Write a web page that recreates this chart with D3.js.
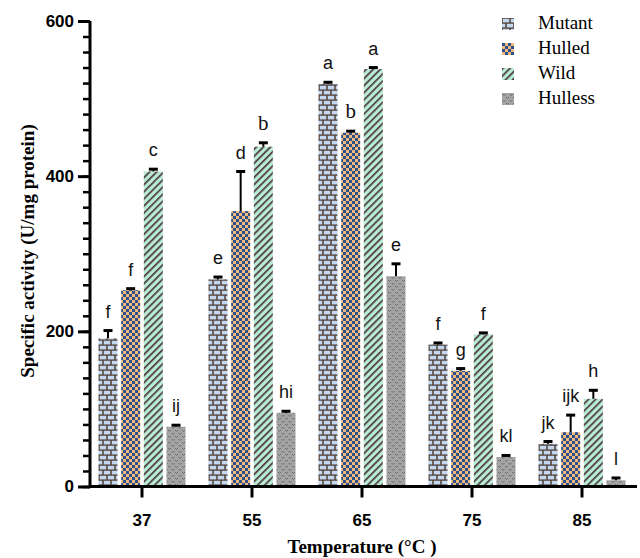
<!DOCTYPE html>
<html>
<head>
<meta charset="utf-8">
<script src="https://cdn.jsdelivr.net/npm/d3@7/dist/d3.min.js"></script>
<style>
  body { margin: 0; background: #fff; }
  svg { display: block; }
</style>
</head>
<body>
<svg></svg>
<script>
const temperatures = ['37', '55', '65', '75', '85'];
const series = ['Mutant', 'Hulled', 'Wild', 'Hulless'];

const mutant = [191, 267, 519, 183, 55];
const hulled = [253, 355, 456, 149, 70];
const wild = [406, 438, 538, 196, 113];
const hulless = [77, 95, 271, 38, 8];

const mutantErr = [10, 3, 2, 2, 3];
const hulledErr = [2, 51, 2, 3, 22];
const wildErr = [3, 5, 2, 2, 11];
const hullessErr = [2, 2, 16, 2, 3];

const mutantLetters = ['f', 'e', 'a', 'f', 'jk'];
const hulledLetters = ['f', 'd', 'b', 'g', 'ijk'];
const wildLetters = ['c', 'b', 'a', 'f', 'h'];
const hullessLetters = ['ij', 'hi', 'e', 'kl', 'l'];

const yTicks = [0, 200, 400, 600];

const values = { Mutant: mutant, Hulled: hulled, Wild: wild, Hulless: hulless };
const errors = { Mutant: mutantErr, Hulled: hulledErr, Wild: wildErr, Hulless: hullessErr };
const letters = { Mutant: mutantLetters, Hulled: hulledLetters, Wild: wildLetters, Hulless: hullessLetters };

const width = 640;
const height = 558;
const svg = d3.select('svg').attr('width', width).attr('height', height);

// fill patterns
const defs = svg.append('defs');

const brick = defs.append('pattern').attr('id', 'p-Mutant')
  .attr('patternUnits', 'userSpaceOnUse').attr('width', 8).attr('height', 10);
brick.append('rect').attr('width', 8).attr('height', 10).attr('fill', '#56483d');
brick.append('rect').attr('x', 0.8).attr('y', 0.8).attr('width', 6.4).attr('height', 3.6).attr('fill', '#c3d7f0');
brick.append('rect').attr('x', -3.2).attr('y', 5.8).attr('width', 6.4).attr('height', 3.6).attr('fill', '#c3d7f0');
brick.append('rect').attr('x', 4.8).attr('y', 5.8).attr('width', 6.4).attr('height', 3.6).attr('fill', '#c3d7f0');

const check = defs.append('pattern').attr('id', 'p-Hulled')
  .attr('patternUnits', 'userSpaceOnUse').attr('width', 6).attr('height', 6);
check.append('rect').attr('width', 6).attr('height', 6).attr('fill', '#f2ba7a');
check.append('rect').attr('width', 3).attr('height', 3).attr('fill', '#2d4f8e');
check.append('rect').attr('x', 3).attr('y', 3).attr('width', 3).attr('height', 3).attr('fill', '#2d4f8e');

const stripe = defs.append('pattern').attr('id', 'p-Wild')
  .attr('patternUnits', 'userSpaceOnUse').attr('width', 5).attr('height', 5)
  .attr('patternTransform', 'rotate(45)');
stripe.append('rect').attr('width', 5).attr('height', 5).attr('fill', '#b8ecd9');
stripe.append('rect').attr('width', 1.7).attr('height', 5).attr('fill', '#4d3838');

const wave = defs.append('pattern').attr('id', 'p-Hulless')
  .attr('patternUnits', 'userSpaceOnUse').attr('width', 7).attr('height', 6);
wave.append('rect').attr('width', 7).attr('height', 6).attr('fill', '#a4a4a4');
wave.append('path').attr('d', 'M0.5,1 l1.5,1.5 l1.5,-1.5 M4,4 l1.5,1.5 l1.5,-1.5')
  .attr('fill', 'none').attr('stroke', '#6a6a6a').attr('stroke-width', 1);

// scales
const x0 = d3.scaleBand().domain(temperatures).range([87, 637]);
const x1 = d3.scaleBand().domain(series).range([11.5, 98.5]).paddingInner(0.162);
const y = d3.scaleLinear().domain([0, 600]).range([486.5, 21]);

// bars
const groups = svg.append('g').selectAll('g')
  .data(temperatures).enter()
  .append('g')
  .attr('transform', (d) => `translate(${x0(d)},0)`);

const cells = groups.selectAll('g')
  .data((t, i) => series.map((s) => ({
    s, v: values[s][i], e: errors[s][i], l: letters[s][i],
  })))
  .enter().append('g');

cells.append('rect')
  .attr('x', (d) => x1(d.s))
  .attr('y', (d) => y(d.v))
  .attr('width', x1.bandwidth())
  .attr('height', (d) => y(0) - y(d.v))
  .attr('fill', (d) => `url(#p-${d.s})`);

const cx = (d) => x1(d.s) + x1.bandwidth() / 2;

cells.append('line')
  .attr('x1', cx).attr('x2', cx)
  .attr('y1', (d) => y(d.v))
  .attr('y2', (d) => y(d.v + d.e))
  .attr('stroke', '#000')
  .attr('stroke-width', 2);

cells.append('line')
  .attr('x1', (d) => cx(d) - 4.5).attr('x2', (d) => cx(d) + 4.5)
  .attr('y1', (d) => y(d.v + d.e))
  .attr('y2', (d) => y(d.v + d.e))
  .attr('stroke', '#000')
  .attr('stroke-width', 3);

cells.append('text')
  .attr('x', cx)
  .attr('y', (d) => y(d.v + d.e) - 13)
  .attr('text-anchor', 'middle')
  .attr('font-family', (d) => (d.l === 'b' ? 'Liberation Serif, serif' : 'Liberation Sans, Arial, sans-serif'))
  .attr('font-size', (d) => (d.l === 'b' ? 21 : 18))
  .attr('fill', '#111')
  .text((d) => d.l);

// y axis: minor then major ticks
const minor = svg.append('g')
  .attr('transform', 'translate(90,0)')
  .call(d3.axisLeft(y).tickValues(d3.range(0, 601, 20)).tickSize(7).tickFormat(''));
minor.select('.domain').remove();
minor.selectAll('line').attr('stroke', '#000').attr('stroke-width', 2.5);

const yAxis = svg.append('g')
  .attr('transform', 'translate(90,0)')
  .call(d3.axisLeft(y).tickValues(yTicks).tickSize(12).tickPadding(4));
yAxis.select('.domain').remove();
yAxis.selectAll('line').attr('stroke', '#000').attr('stroke-width', 3);
yAxis.selectAll('text')
  .attr('font-family', 'Liberation Sans, Arial, sans-serif')
  .attr('font-weight', 'bold')
  .attr('font-size', 17)
  .attr('fill', '#000');

// x axis
const xAxis = svg.append('g')
  .attr('transform', `translate(0,${y(0)})`)
  .call(d3.axisBottom(x0).tickSize(11).tickPadding(16));
xAxis.select('.domain').remove();
xAxis.selectAll('line').attr('stroke', '#000').attr('stroke-width', 3);
xAxis.selectAll('text')
  .attr('font-family', 'Liberation Sans, Arial, sans-serif')
  .attr('font-weight', 'bold')
  .attr('font-size', 17)
  .attr('fill', '#000');

svg.append('path')
  .attr('d', `M90,${y(600)} V${y(0)} H637`)
  .attr('fill', 'none')
  .attr('stroke', '#000')
  .attr('stroke-width', 3);

// axis titles
svg.append('text')
  .attr('transform', 'translate(34,251) rotate(-90)')
  .attr('text-anchor', 'middle')
  .attr('font-family', 'Liberation Serif, Times New Roman, serif')
  .attr('font-weight', 'bold')
  .attr('font-size', 19)
  .text('Specific activity (U/mg protein)');

svg.append('text')
  .attr('x', 362)
  .attr('y', 553)
  .attr('text-anchor', 'middle')
  .attr('font-family', 'Liberation Serif, Times New Roman, serif')
  .attr('font-weight', 'bold')
  .attr('font-size', 19)
  .text('Temperature (°C )');

// legend
const legend = svg.append('g').selectAll('g')
  .data(series).enter()
  .append('g')
  .attr('transform', (d, i) => `translate(502,${18 + i * 25})`);

legend.append('rect')
  .attr('width', 12)
  .attr('height', 12)
  .attr('fill', (d) => `url(#p-${d})`);

legend.append('text')
  .attr('x', 36)
  .attr('y', 11)
  .attr('font-family', 'Liberation Serif, Times New Roman, serif')
  .attr('font-size', 19)
  .text((d) => d);
</script>
</body>
</html>
